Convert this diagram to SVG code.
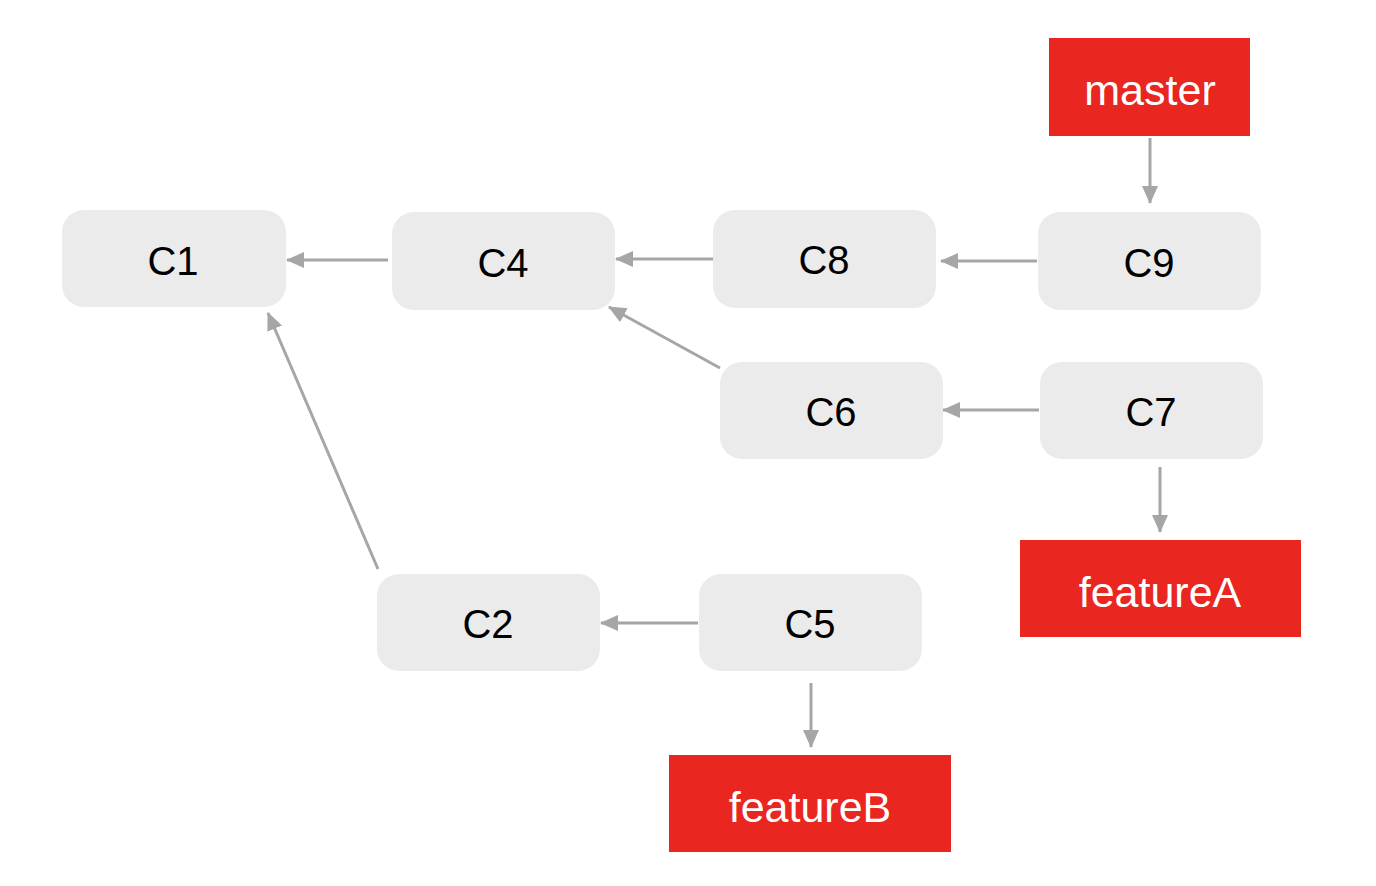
<svg xmlns="http://www.w3.org/2000/svg" width="1376" height="886" viewBox="0 0 1376 886">
<style>
.n rect{fill:#ebebeb}
.b rect{fill:#ea2620}
text{font-family:"Liberation Sans",Arial,sans-serif;text-anchor:middle}
.n text{fill:#000;font-size:40px}
.b text{fill:#fff;font-size:43px}
.e line{stroke:#a6a6a6;stroke-width:3;fill:none}
</style>
<defs>
<marker id="ah" markerUnits="userSpaceOnUse" markerWidth="18" markerHeight="16" viewBox="0 0 18 16" refX="17" refY="8" orient="auto">
<path d="M0,0 L18,8 L0,16 Z" fill="#a6a6a6"/>
</marker>
</defs>
<rect width="1376" height="886" fill="#fff"/>
<g class="e" id="connectors">
<line x1="388" y1="260" x2="287" y2="260" marker-end="url(#ah)"/>
<line x1="713" y1="259" x2="616" y2="259" marker-end="url(#ah)"/>
<line x1="1037" y1="261" x2="941" y2="261" marker-end="url(#ah)"/>
<line x1="1039" y1="410" x2="943" y2="410" marker-end="url(#ah)"/>
<line x1="698" y1="623" x2="601" y2="623" marker-end="url(#ah)"/>
<line x1="720" y1="368" x2="609" y2="307" marker-end="url(#ah)"/>
<line x1="378" y1="569" x2="268" y2="313" marker-end="url(#ah)"/>
<line x1="1150" y1="138" x2="1150" y2="203" marker-end="url(#ah)"/>
<line x1="1160" y1="467" x2="1160" y2="532" marker-end="url(#ah)"/>
<line x1="811" y1="683" x2="811" y2="747" marker-end="url(#ah)"/>
</g>
<g class="n" id="C1"><rect x="62" y="210" width="224" height="97" rx="22"/><text x="173" y="275">C1</text></g>
<g class="n" id="C4"><rect x="392" y="212" width="223" height="98" rx="22"/><text x="503" y="277">C4</text></g>
<g class="n" id="C8"><rect x="713" y="210" width="223" height="98" rx="22"/><text x="824" y="274">C8</text></g>
<g class="n" id="C9"><rect x="1038" y="212" width="223" height="98" rx="22"/><text x="1149" y="277">C9</text></g>
<g class="n" id="C6"><rect x="720" y="362" width="223" height="97" rx="22"/><text x="831" y="426">C6</text></g>
<g class="n" id="C7"><rect x="1040" y="362" width="223" height="97" rx="22"/><text x="1151" y="426">C7</text></g>
<g class="n" id="C2"><rect x="377" y="574" width="223" height="97" rx="22"/><text x="488" y="638">C2</text></g>
<g class="n" id="C5"><rect x="699" y="574" width="223" height="97" rx="22"/><text x="810" y="638">C5</text></g>
<g class="b" id="master"><rect x="1049" y="38" width="201" height="98"/><text x="1150" y="105">master</text></g>
<g class="b" id="featureA"><rect x="1020" y="540" width="281" height="97"/><text x="1160" y="607">featureA</text></g>
<g class="b" id="featureB"><rect x="669" y="755" width="282" height="97"/><text x="810" y="822">featureB</text></g>
</svg>
